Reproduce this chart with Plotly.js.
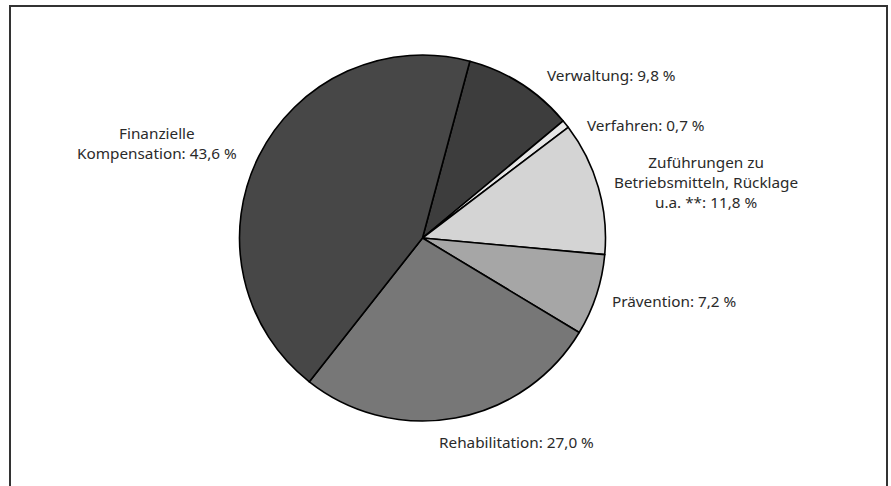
<!DOCTYPE html>
<html>
<head>
<meta charset="utf-8">
<script src="https://cdn.plot.ly/plotly-3.0.1.min.js"></script>
<style>
html,body{margin:0;padding:0;background:#fff;}
#chart{width:891px;height:486px;}
</style>
</head>
<body>
<div id="chart"></div>
<script>
// Data (clockwise from the top)
var categories = ["Verwaltung", "Verfahren", "Zuführungen zu<br>Betriebsmitteln, Rücklage<br>u.a. **", "Prävention", "Rehabilitation", "Finanzielle<br>Kompensation"];
var values = [9.8, 0.7, 11.8, 7.2, 27.0, 43.6];
var valueLabels = ["9,8 %", "0,7 %", "11,8 %", "7,2 %", "27,0 %", "43,6 %"];

// Styling
var colors = ["#3d3d3d", "#e6e6e6", "#d4d4d4", "#a6a6a6", "#777777", "#474747"];
var W = 891, H = 486;
// label anchor positions in pixels (center)
var labelPos = [[611, 75], [646, 125], [706, 182], [674, 301], [516, 442], [157, 143]];

var annotations = categories.map(function (c, i) {
  return {
    xref: "paper", yref: "paper",
    x: labelPos[i][0] / W, y: 1 - labelPos[i][1] / H,
    xanchor: "center", yanchor: "middle", align: "center",
    text: c + ": " + valueLabels[i],
    showarrow: false,
    font: {family: "'Noto Sans', 'Open Sans', sans-serif", size: 15.3, color: "#2a2a2a"}
  };
});

var cx = 422.5, cy = 238, r = 183;
var trace = {
  type: "pie",
  values: values,
  labels: categories,
  sort: false,
  direction: "clockwise",
  rotation: 15,
  textinfo: "none",
  hoverinfo: "label+value",
  marker: {colors: colors, line: {color: "#000", width: 1.6}},
  domain: {x: [(cx - r) / W, (cx + r) / W], y: [1 - (cy + r) / H, 1 - (cy - r) / H]}
};

var layout = {
  width: W, height: H,
  margin: {l: 0, r: 0, t: 0, b: 0},
  paper_bgcolor: "#fff",
  showlegend: false,
  annotations: annotations,
  shapes: [{
    type: "rect", xref: "paper", yref: "paper",
    x0: 10 / W, x1: 887 / W, y0: -0.05, y1: 1 - 6 / H,
    line: {color: "#333", width: 2}, fillcolor: "rgba(0,0,0,0)"
  }]
};

Plotly.newPlot("chart", [trace], layout, {staticPlot: true});
</script>
</body>
</html>
